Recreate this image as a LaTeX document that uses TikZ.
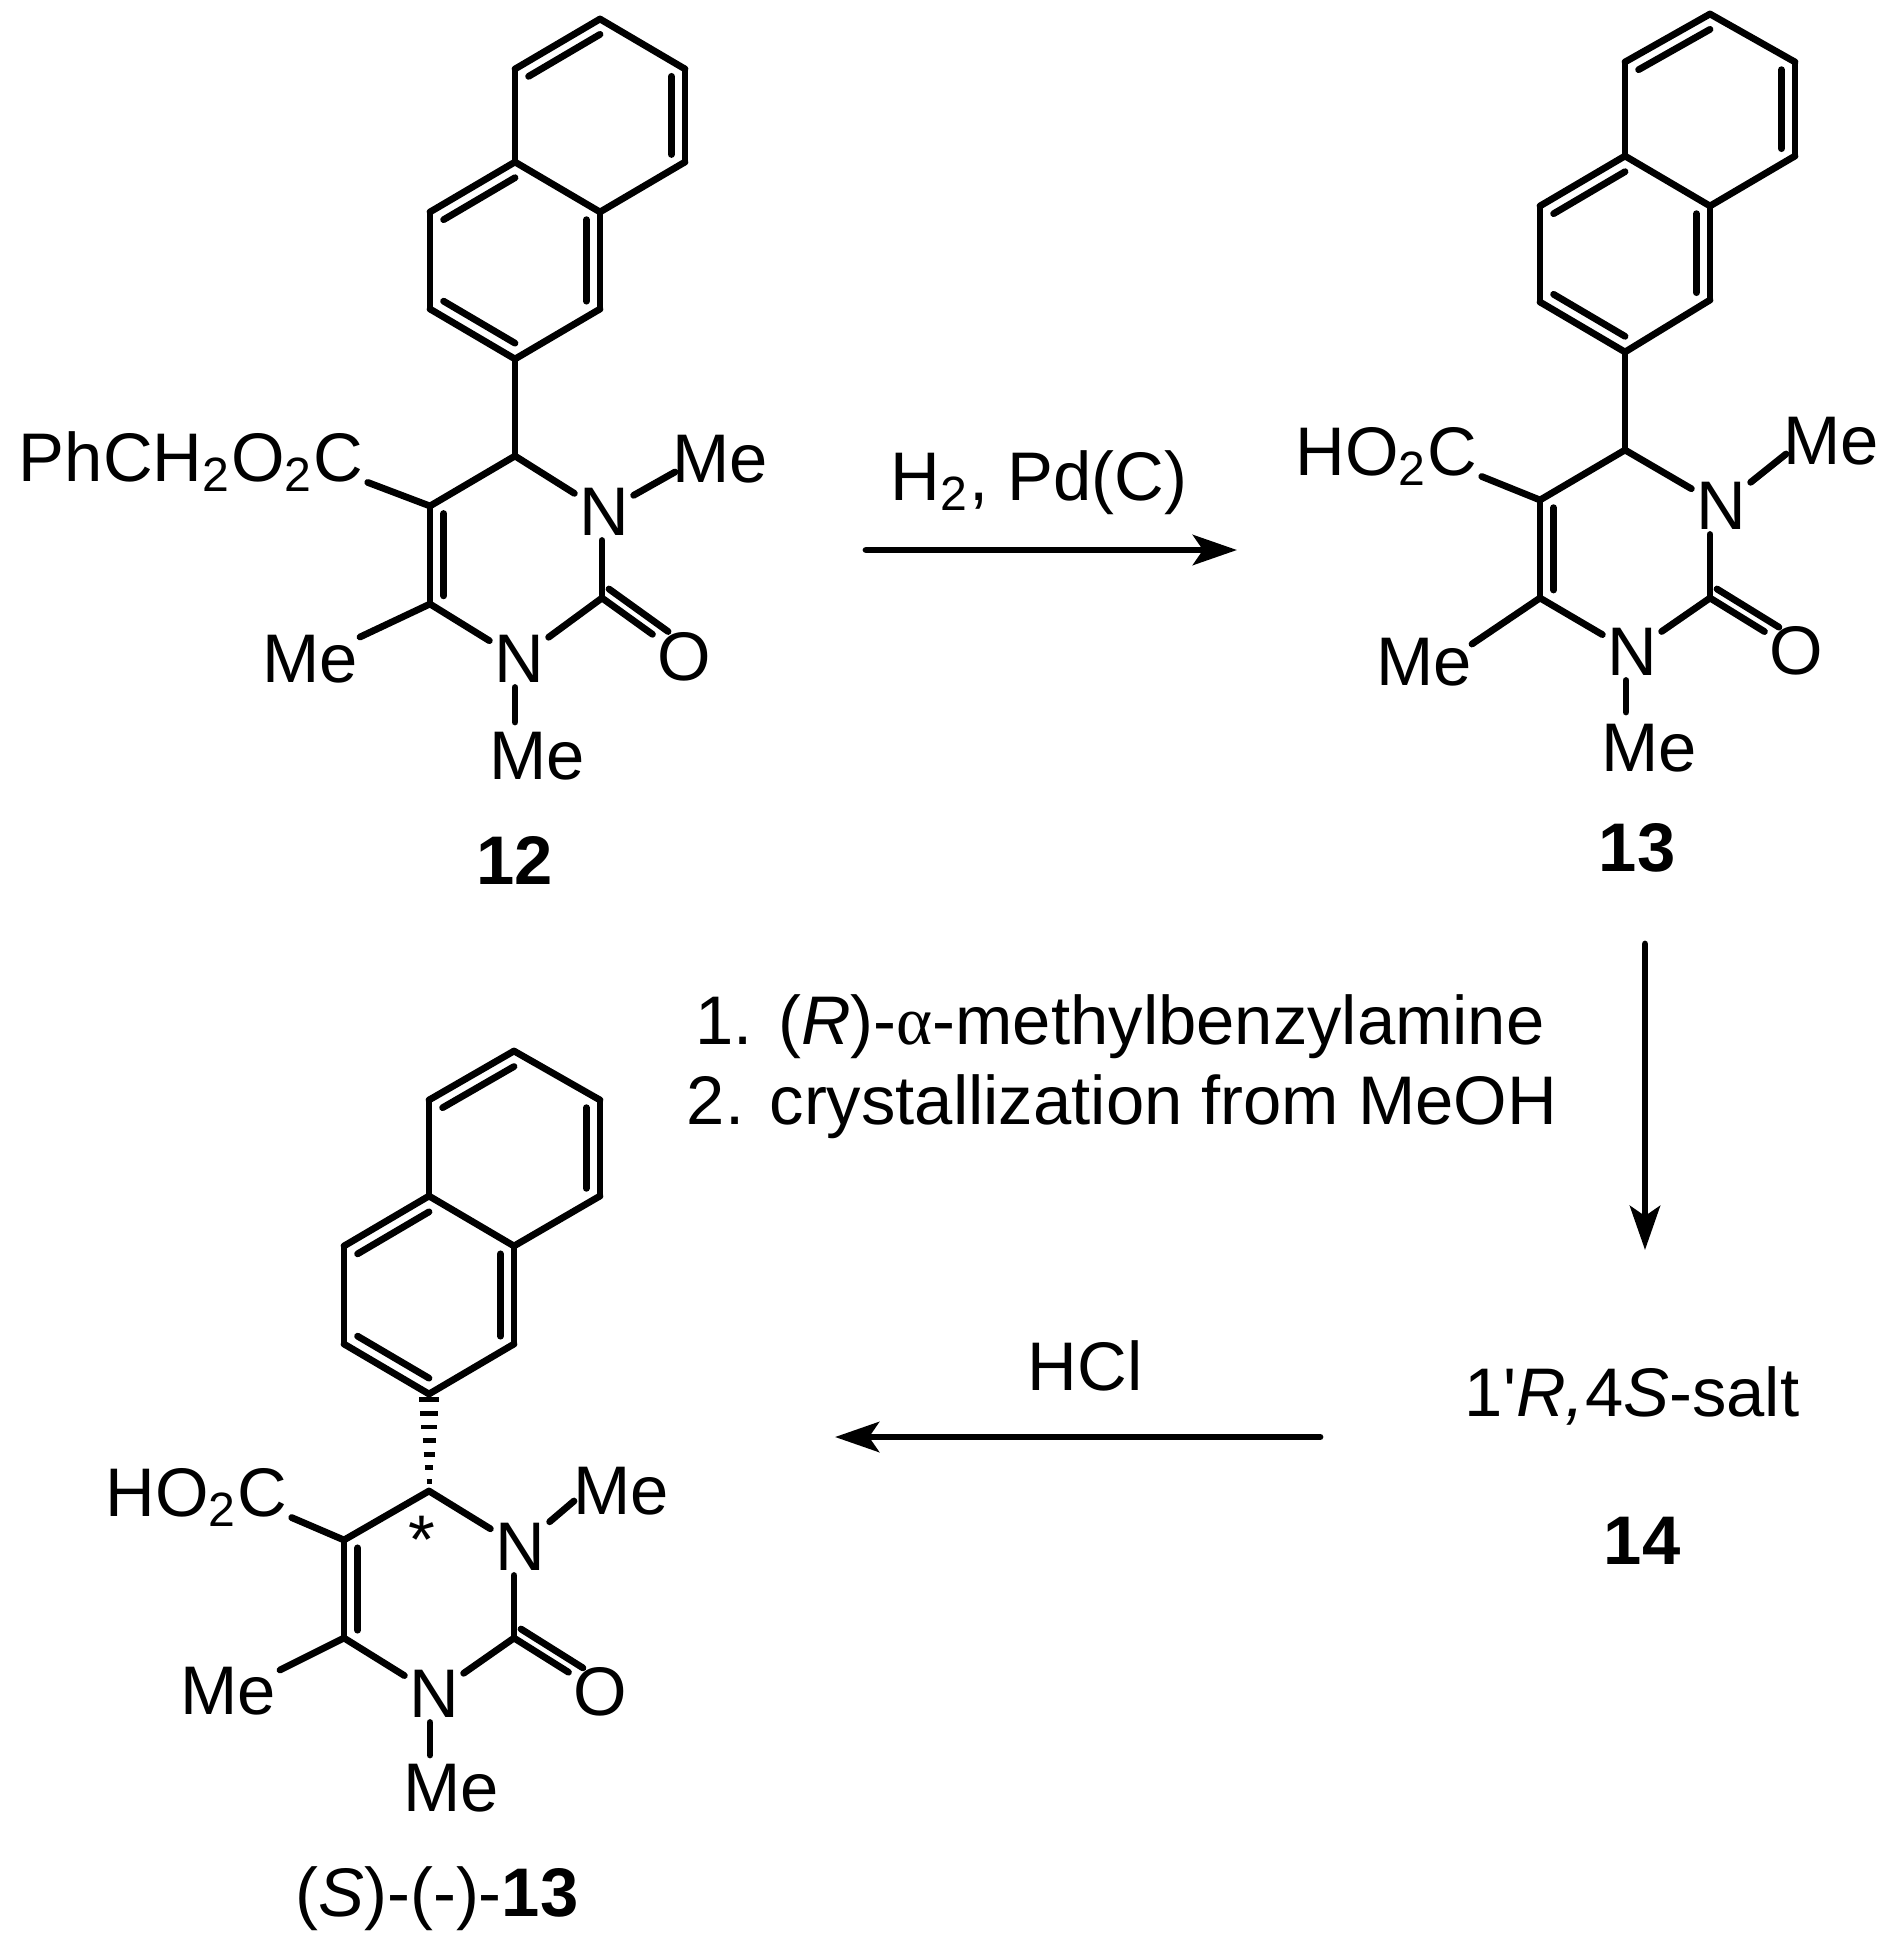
\documentclass[tikz,border=0pt]{standalone}
\usepackage{fontspec}
\usepackage{tikz}
\usetikzlibrary{calc,arrows.meta}
\setmainfont{Liberation Sans}
\newfontfamily\alphafont{Liberation Serif}

\begin{document}
\begin{tikzpicture}[x=0.25pt,y=-0.25pt,line cap=round,line join=round,
	label text/.style={font=\fontsize{17.2}{20}\selectfont,inner sep=0pt},
	reaction/.style={line width=1.7pt,-{Stealth[length=11pt,width=7.5pt,inset=2.5pt]}}]

\useasboundingbox (0,0) rectangle (1903,1960);

%Compound 12, carbons
\coordinate (a_1^12) at (600,19);
\coordinate (a_2^12) at (685,69);
\coordinate (a_3^12) at (685,162);
\coordinate (a_4^12) at (600,212);
\coordinate (a_5^12) at (515,162);
\coordinate (a_6^12) at (515,69);
\coordinate (a_7^12) at (600,309);
\coordinate (a_8^12) at (515,359);
\coordinate (a_9^12) at (430,309);
\coordinate (a_10^12) at (430,212);
\coordinate (c_4^12) at (515,456);
\coordinate (c_5^12) at (430,506);
\coordinate (c_6^12) at (430,604);
\coordinate (c_2^12) at (602,598);
\coordinate (ctr_1^12) at (600,115);
\coordinate (ctr_2^12) at (515,260);
\coordinate (ctr_3^12) at (516,553);
\coordinate (me_1^12) at (675,472);
\coordinate (me_3^12) at (515,722);
\coordinate (me_6^12) at (360,637);

%Compound 13, carbons
\coordinate (a_1^13) at (1710,14);
\coordinate (a_2^13) at (1795,62);
\coordinate (a_3^13) at (1795,156);
\coordinate (a_4^13) at (1710,206);
\coordinate (a_5^13) at (1625,156);
\coordinate (a_6^13) at (1625,62);
\coordinate (a_7^13) at (1710,300);
\coordinate (a_8^13) at (1625,352);
\coordinate (a_9^13) at (1540,302);
\coordinate (a_10^13) at (1540,206);
\coordinate (c_4^13) at (1625,450);
\coordinate (c_5^13) at (1540,500);
\coordinate (c_6^13) at (1540,598);
\coordinate (c_2^13) at (1710,598);
\coordinate (ctr_1^13) at (1710,110);
\coordinate (ctr_2^13) at (1625,254);
\coordinate (ctr_3^13) at (1625,548);
\coordinate (me_1^13) at (1786,454);
\coordinate (me_3^13) at (1626,712);
\coordinate (me_6^13) at (1472,644);

%Compound S, carbons
\coordinate (a_1^s) at (514,1051);
\coordinate (a_2^s) at (600,1100);
\coordinate (a_3^s) at (600,1196);
\coordinate (a_4^s) at (514,1246);
\coordinate (a_5^s) at (429,1196);
\coordinate (a_6^s) at (429,1100);
\coordinate (a_7^s) at (514,1344);
\coordinate (a_8^s) at (429,1394);
\coordinate (a_9^s) at (344,1344);
\coordinate (a_10^s) at (344,1246);
\coordinate (c_4^s) at (429,1491);
\coordinate (c_5^s) at (344,1540);
\coordinate (c_6^s) at (344,1638);
\coordinate (c_2^s) at (514,1638);
\coordinate (ctr_1^s) at (514,1148);
\coordinate (ctr_2^s) at (429,1295);
\coordinate (ctr_3^s) at (429,1589);
\coordinate (me_1^s) at (574,1501);
\coordinate (me_3^s) at (430,1755);
\coordinate (me_6^s) at (280,1670);

\begin{scope}[every node/.style={label text}]
	%Compound 12
	\node (n_1^12) at (604,512) [inner sep=1pt] {N};
	\node (n_3^12) at (519,659) [inner sep=1pt] {N};
	\node (o^12) at (684,657) [inner sep=1pt] {O};
	\node (met_1^12) at (720,459) {Me};
	\node (met_3^12) at (537,756) {Me};
	\node (met_6^12) at (310,659) {Me};
	\node (ester^12) at (364,481) [anchor=base east] {PhCH\textsubscript{2}O\textsubscript{2}C};
	\node (name^12) at (515,860) {\textbf{12}};

	%Compound 13
	\node (n_1^13) at (1721,506) [inner sep=1pt] {N};
	\node (n_3^13) at (1632,652) [inner sep=1pt] {N};
	\node (o^13) at (1796,651) [inner sep=1pt] {O};
	\node (met_1^13) at (1831,441) {Me};
	\node (met_3^13) at (1649,748) {Me};
	\node (met_6^13) at (1424,662) {Me};
	\node (acid^13) at (1478,475) [anchor=base east] {HO\textsubscript{2}C};
	\node (name^13) at (1637,848) {\textbf{13}};

	%Compound S
	\node (n_1^s) at (520,1547) [inner sep=1pt] {N};
	\node (n_3^s) at (434,1694) [inner sep=1pt] {N};
	\node (o^s) at (600,1692) [inner sep=1pt] {O};
	\node (met_1^s) at (621,1491) {Me};
	\node (met_3^s) at (451,1788) {Me};
	\node (met_6^s) at (228,1691) {Me};
	\node (acid^s) at (288,1516) [anchor=base east] {HO\textsubscript{2}C};
	\node (star^s) at (422,1540) {*};
	\node (name^s) at (437,1916) [anchor=base] {(\textit{S})-(-)-\textbf{13}};

	%Reagents
	\node (h2) at (1039,500) [anchor=base] {H\textsubscript{2}, Pd(C)};
	\node (amine) at (1120,1044) [anchor=base] {1. (\textit{R})-{\alphafont α}-methylbenzylamine};
	\node (cryst) at (1122,1124) [anchor=base] {2. crystallization from MeOH};
	\node (hcl) at (1085,1390) [anchor=base] {HCl};
	\node (salt) at (1632,1416) [anchor=base] {1\textquotesingle\textit{R,}4\textit{S}-salt};
	\node (name^14) at (1642,1541) {\textbf{14}};
\end{scope}

%Arrow ends
\coordinate (r_1a) at (866,550);
\coordinate (r_1b) at (1237,550);
\coordinate (r_2a) at (1645,944);
\coordinate (r_2b) at (1645,1250);
\coordinate (r_3a) at (1320,1437);
\coordinate (r_3b) at (835,1437);

\begin{scope}[line width=1.7pt]
	%Compound 12
	\path [-] (a_1^12) edge (a_2^12) edge (a_6^12);
	\path [-] (a_3^12) edge (a_2^12) edge (a_4^12);
	\path [-] (a_5^12) edge (a_4^12) edge (a_6^12) edge (a_10^12);
	\path [-] (a_7^12) edge (a_4^12) edge (a_8^12);
	\path [-] (a_9^12) edge (a_8^12) edge (a_10^12);
	\path [-] (a_8^12) edge (c_4^12);
	\path [-] (c_4^12) edge (c_5^12) edge (n_1^12);
	\path [-] (c_6^12) edge (c_5^12) edge (n_3^12) edge (me_6^12);
	\path [-] (c_2^12) edge (n_3^12) edge (c_2^12 |- n_1^12.south) edge (o^12);
	\path [-] (n_1^12) edge (me_1^12);
	\path [-] (me_3^12 |- n_3^12.south) edge (me_3^12);
	\path [-,shorten >=1pt] (c_5^12) edge (ester^12.base east);
	\path [-] ([shift={(7,-9)}]c_2^12) edge ($(c_2^12)!.72!(o^12)+(7,-9)$);
	\path [-] ($(a_1^12)!.16!(ctr_1^12)$) edge ($(a_6^12)!.16!(ctr_1^12)$);
	\path [-] ($(a_2^12)!.16!(ctr_1^12)$) edge ($(a_3^12)!.16!(ctr_1^12)$);
	\path [-] ($(a_5^12)!.16!(ctr_2^12)$) edge ($(a_10^12)!.16!(ctr_2^12)$);
	\path [-] ($(a_4^12)!.16!(ctr_2^12)$) edge ($(a_7^12)!.16!(ctr_2^12)$);
	\path [-] ($(a_8^12)!.16!(ctr_2^12)$) edge ($(a_9^12)!.16!(ctr_2^12)$);
	\path [-] ($(c_5^12)!.16!(ctr_3^12)$) edge ($(c_6^12)!.16!(ctr_3^12)$);

	%Compound 13
	\path [-] (a_1^13) edge (a_2^13) edge (a_6^13);
	\path [-] (a_3^13) edge (a_2^13) edge (a_4^13);
	\path [-] (a_5^13) edge (a_4^13) edge (a_6^13) edge (a_10^13);
	\path [-] (a_7^13) edge (a_4^13) edge (a_8^13);
	\path [-] (a_9^13) edge (a_8^13) edge (a_10^13);
	\path [-] (a_8^13) edge (c_4^13);
	\path [-] (c_4^13) edge (c_5^13) edge (n_1^13);
	\path [-] (c_6^13) edge (c_5^13) edge (n_3^13) edge (me_6^13);
	\path [-] (c_2^13) edge (n_3^13) edge (c_2^13 |- n_1^13.south) edge (o^13);
	\path [-] (n_1^13) edge (me_1^13);
	\path [-] (me_3^13 |- n_3^13.south) edge (me_3^13);
	\path [-,shorten >=1pt] (c_5^13) edge (acid^13.base east);
	\path [-] ([shift={(7,-9)}]c_2^13) edge ($(c_2^13)!.72!(o^13)+(7,-9)$);
	\path [-] ($(a_1^13)!.16!(ctr_1^13)$) edge ($(a_6^13)!.16!(ctr_1^13)$);
	\path [-] ($(a_2^13)!.16!(ctr_1^13)$) edge ($(a_3^13)!.16!(ctr_1^13)$);
	\path [-] ($(a_5^13)!.16!(ctr_2^13)$) edge ($(a_10^13)!.16!(ctr_2^13)$);
	\path [-] ($(a_4^13)!.16!(ctr_2^13)$) edge ($(a_7^13)!.16!(ctr_2^13)$);
	\path [-] ($(a_8^13)!.16!(ctr_2^13)$) edge ($(a_9^13)!.16!(ctr_2^13)$);
	\path [-] ($(c_5^13)!.16!(ctr_3^13)$) edge ($(c_6^13)!.16!(ctr_3^13)$);

	%Compound S
	\path [-] (a_1^s) edge (a_2^s) edge (a_6^s);
	\path [-] (a_3^s) edge (a_2^s) edge (a_4^s);
	\path [-] (a_5^s) edge (a_4^s) edge (a_6^s) edge (a_10^s);
	\path [-] (a_7^s) edge (a_4^s) edge (a_8^s);
	\path [-] (a_9^s) edge (a_8^s) edge (a_10^s);
	\path [-] (c_4^s) edge (c_5^s) edge (n_1^s);
	\path [-] (c_6^s) edge (c_5^s) edge (n_3^s) edge (me_6^s);
	\path [-] (c_2^s) edge (n_3^s) edge (c_2^s |- n_1^s.south) edge (o^s);
	\path [-] (n_1^s) edge (me_1^s);
	\path [-] (me_3^s |- n_3^s.south) edge (me_3^s);
	\path [-,shorten >=1pt] (c_5^s) edge (acid^s.base east);
	\path [-] ([shift={(7,-9)}]c_2^s) edge ($(c_2^s)!.72!(o^s)+(7,-9)$);
	\path [-] ($(a_1^s)!.16!(ctr_1^s)$) edge ($(a_6^s)!.16!(ctr_1^s)$);
	\path [-] ($(a_2^s)!.16!(ctr_1^s)$) edge ($(a_3^s)!.16!(ctr_1^s)$);
	\path [-] ($(a_5^s)!.16!(ctr_2^s)$) edge ($(a_10^s)!.16!(ctr_2^s)$);
	\path [-] ($(a_4^s)!.16!(ctr_2^s)$) edge ($(a_7^s)!.16!(ctr_2^s)$);
	\path [-] ($(a_8^s)!.16!(ctr_2^s)$) edge ($(a_9^s)!.16!(ctr_2^s)$);
	\path [-] ($(c_5^s)!.16!(ctr_3^s)$) edge ($(c_6^s)!.16!(ctr_3^s)$);

	%Hashed bond
	\foreach \t/\w in {.06/10,.2/9,.34/8,.48/6.5,.62/5.5,.76/4,.9/2.5}
		\draw [line width=1.2pt,line cap=butt] ($(a_8^s)!\t!(c_4^s)+(-\w,0)$) -- ($(a_8^s)!\t!(c_4^s)+(\w,0)$);
\end{scope}

%Reactions
\draw [reaction] (r_1a) -- (r_1b);
\draw [reaction] (r_2a) -- (r_2b);
\draw [reaction] (r_3a) -- (r_3b);

\end{tikzpicture}
\end{document}
